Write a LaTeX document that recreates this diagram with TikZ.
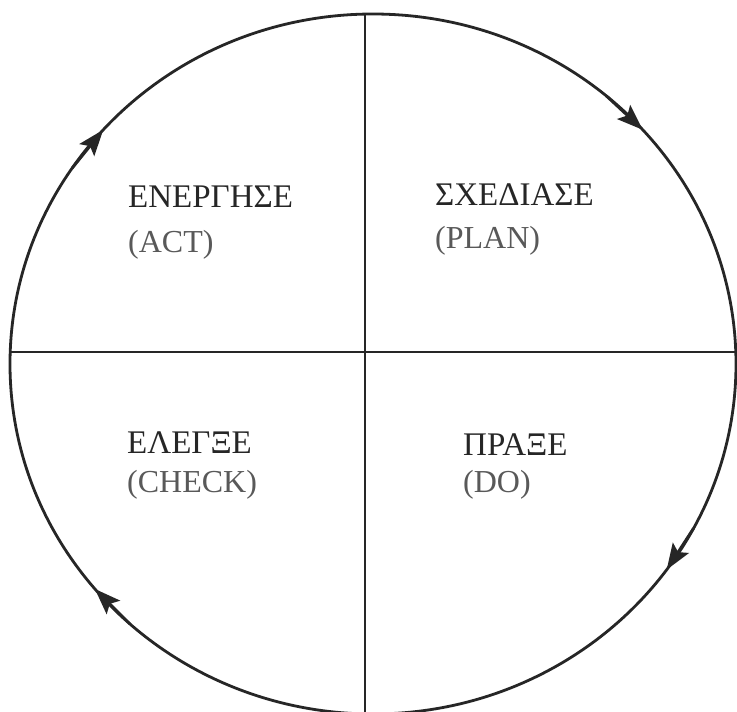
\documentclass[tikz,border=0pt]{standalone}
\usepackage{fontspec}
\setmainfont{Liberation Serif}
\usetikzlibrary{arrows.meta}
\tikzset{
  ring/.style={line width=2.8pt, black!85},
  axis/.style={line width=2.3pt, black!85},
  flowtip/.style={ring, -{Stealth[length=26pt,width=19pt,inset=5pt]}},
  lab/.style={anchor=base west, inner sep=0pt, font=\fontsize{33}{36}\selectfont, text=black!85},
  sublab/.style={anchor=base west, inner sep=0pt, font=\fontsize{32}{36}\selectfont, text=black!65}
}
\newcommand{\ex}[1]{{373+363*cos(#1)}}
\newcommand{\ey}[1]{{364-350*sin(#1)}}
\begin{document}
\begin{tikzpicture}[x=1pt,y=-1pt]
\useasboundingbox (0,0) rectangle (737,712);
\fill[white] (0,0) rectangle (737,712);
% circle
\coordinate (c) at (373,364);
\draw[ring] (c) ellipse [x radius=363pt, y radius=350pt];
% axes
\coordinate (vtop) at (365,14);
\coordinate (vbot) at (365,712);
\coordinate (hl) at (10,352);
\coordinate (hr) at (737,352);
\draw[axis] (vtop) -- (vbot);
\draw[axis] (hl) -- (hr);
% arrow heads (clockwise flow)
\coordinate (a1s) at (\ex{146},\ey{146});
\coordinate (a1e) at (\ex{138},\ey{138});
\coordinate (a2s) at (\ex{50},\ey{50});
\coordinate (a2e) at (\ex{42},\ey{42});
\coordinate (a3s) at (\ex{-28},\ey{-28});
\coordinate (a3e) at (\ex{-36},\ey{-36});
\coordinate (a4s) at (\ex{-132},\ey{-132});
\coordinate (a4e) at (\ex{-140},\ey{-140});
\draw[flowtip] (a1s) -- (a1e);
\draw[flowtip] (a2s) -- (a2e);
\draw[flowtip] (a3s) -- (a3e);
\draw[flowtip] (a4s) -- (a4e);
% labels
\node[lab] (act) at (128,207) {ΕΝΕΡΓΗΣΕ};
\node[sublab] (actb) at (128,252) {(ACT)};
\node[lab] (plan) at (435,205) {ΣΧΕΔΙΑΣΕ};
\node[sublab] (planb) at (435,248) {(PLAN)};
\node[lab] (check) at (127,453) {ΕΛΕΓΞΕ};
\node[sublab] (checkb) at (127,492) {(CHECK)};
\node[lab] (do) at (463,455) {ΠΡΑΞΕ};
\node[sublab] (dob) at (463,492) {(DO)};
\end{tikzpicture}
\end{document}
